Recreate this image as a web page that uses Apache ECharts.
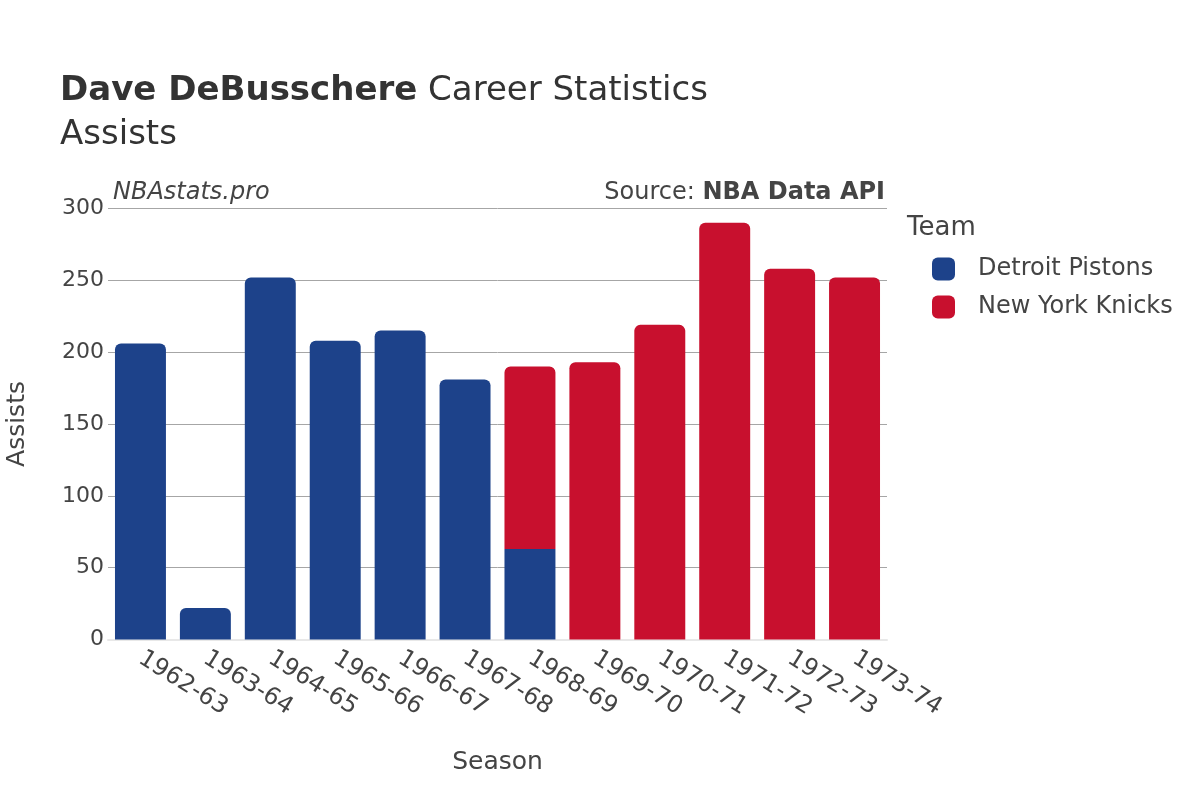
<!DOCTYPE html>
<html>
<head>
<meta charset="utf-8">
<script src="https://cdn.jsdelivr.net/npm/echarts@6/dist/echarts.min.js"></script>
<style>
  html, body { margin: 0; padding: 0; background: #fff; }
  #chart { width: 1200px; height: 800px; }
</style>
</head>
<body>
<div id="chart"></div>
<script>
// seasons and assists per team
var seasons = ["1962-63", "1963-64", "1964-65", "1965-66", "1966-67", "1967-68",
  "1968-69", "1969-70", "1970-71", "1971-72", "1972-73", "1973-74"];
var pistons = [206, 22, 252, 208, 215, 181, 63, null, null, null, null, null];
var knicks = [null, null, null, null, null, null, 127, 193, 219, 290, 258, 252];
var yTicks = [0, 50, 100, 150, 200, 250, 300];

var font = "DejaVu Sans";
var textColor = "#444";

// top segment gets rounded corners
function buildData(vals, above) {
  return vals.map(function (v, i) {
    var top = !(above && above[i] != null);
    return {
      value: v,
      itemStyle: { borderRadius: top ? [6, 6, 0, 0] : 0 }
    };
  });
}

var chart = echarts.init(document.getElementById("chart"));
chart.setOption({
  backgroundColor: "#fff",
  animation: false,
  textStyle: { fontFamily: font },
  title: [
    {
      left: 55,
      top: 64,
      text: "{b|Dave DeBusschere} {n|Career Statistics}\n{n|Assists}",
      textStyle: {
        fontWeight: "normal",
        rich: {
          b: { fontFamily: font, fontSize: 34, fontWeight: "bold", color: "#333", lineHeight: 44, padding: [0, 5, 0, 0] },
          n: { fontFamily: font, fontSize: 34, fontWeight: "normal", color: "#333", lineHeight: 44 }
        }
      }
    },
    {
      left: 108,
      top: 176,
      text: "NBAstats.pro",
      textStyle: { fontFamily: font, fontSize: 24, fontStyle: "italic", fontWeight: "normal", color: "#444" }
    },
    {
      right: 310,
      top: 176,
      text: "Source: {b|NBA Data API}",
      textStyle: {
        fontFamily: font, fontSize: 24, fontWeight: "normal", color: "#444",
        rich: { b: { fontFamily: font, fontSize: 24, fontWeight: "bold", color: "#444" } }
      }
    },
    {
      left: 902,
      top: 210,
      text: "Team",
      textStyle: { fontFamily: font, fontSize: 26, fontWeight: "normal", color: "#444" }
    }
  ],
  legend: {
    orient: "vertical",
    left: 927,
    top: 252,
    icon: "roundRect",
    itemWidth: 23,
    itemHeight: 23,
    itemGap: 14,
    textStyle: { fontFamily: font, fontSize: 24, color: "#444", padding: [0, 0, 0, 18] },
    data: ["Detroit Pistons", "New York Knicks"]
  },
  grid: { left: 108, right: 313, top: 208.5, bottom: 160.5, containLabel: false, outerBoundsMode: "none" },
  xAxis: {
    type: "category",
    data: seasons,
    name: "Season",
    nameLocation: "middle",
    nameGap: 110,
    nameTextStyle: { fontFamily: font, fontSize: 25, color: "#444" },
    axisLine: { show: true, lineStyle: { color: "#e8e8e8", width: 2 } },
    axisTick: { show: false },
    axisLabel: { rotate: -32, fontFamily: font, fontSize: 24, color: textColor, margin: 17, interval: 0 }
  },
  yAxis: {
    type: "value",
    min: yTicks[0],
    max: yTicks[yTicks.length - 1],
    interval: 50,
    name: "Assists",
    nameLocation: "middle",
    nameGap: 78,
    nameTextStyle: { fontFamily: font, fontSize: 25, color: "#444" },
    axisLine: { show: false },
    axisTick: { show: false },
    axisLabel: { fontFamily: font, fontSize: 22, color: textColor, margin: 4 },
    splitLine: { lineStyle: { color: "#a6a6a6", width: 1 } }
  },
  series: [
    {
      name: "Detroit Pistons",
      type: "bar",
      stack: "total",
      barCategoryGap: "21.5%",
      itemStyle: { color: "#1D428A" },
      data: buildData(pistons, knicks)
    },
    {
      name: "New York Knicks",
      type: "bar",
      stack: "total",
      barCategoryGap: "21.5%",
      itemStyle: { color: "#C8102E" },
      data: buildData(knicks, null)
    }
  ]
});
</script>
</body>
</html>
